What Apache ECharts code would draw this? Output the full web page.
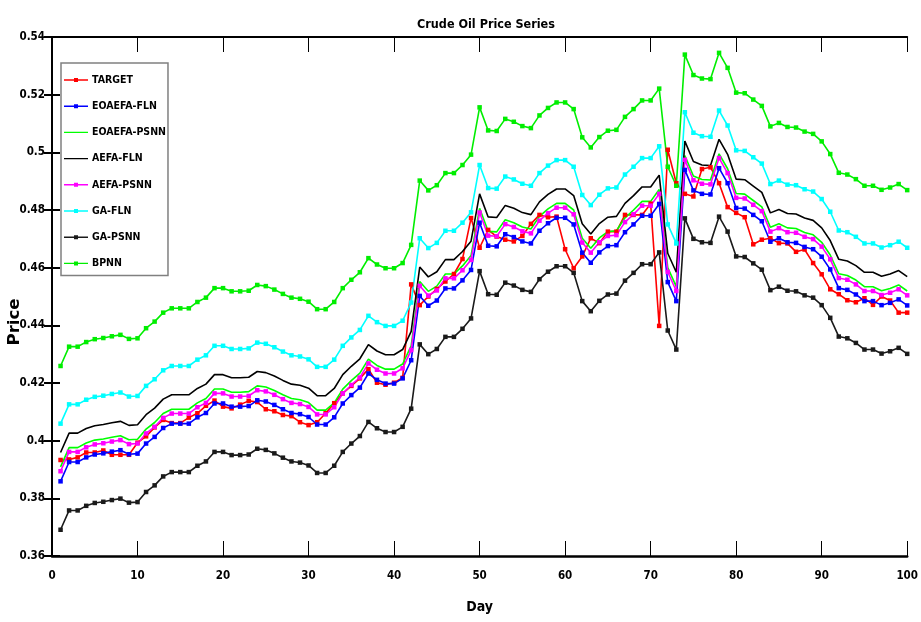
<!DOCTYPE html>
<html>
<head>
<meta charset="utf-8">
<title>Crude Oil Price Series</title>
<script src="https://cdn.jsdelivr.net/npm/echarts@6/dist/echarts.min.js"></script>
<style>
  html, body { margin: 0; padding: 0; background: #fff; }
  #chart { width: 921px; height: 622px; }
</style>
</head>
<body>
<div id="chart"></div>
<script>
// Day index (x axis)
const days = [1,2,3,4,5,6,7,8,9,10,11,12,13,14,15,16,17,18,19,20,21,22,23,24,25,26,27,28,29,30,31,32,33,34,35,36,37,38,39,40,41,42,43,44,45,46,47,48,49,50,51,52,53,54,55,56,57,58,59,60,61,62,63,64,65,66,67,68,69,70,71,72,73,74,75,76,77,78,79,80,81,82,83,84,85,86,87,88,89,90,91,92,93,94,95,96,97,98,99,100];

// Tick labels
const xTicks = [0,10,20,30,40,50,60,70,80,90,100];
const yTicks = [0.36,0.38,0.4,0.42,0.44,0.46,0.48,0.5,0.52,0.54];

// Observed crude oil price
const target = [0.3933,0.3935,0.3942,0.3959,0.3959,0.3966,0.3951,0.3951,0.3951,0.3993,0.4015,0.4046,0.4072,0.4061,0.4061,0.4080,0.4095,0.4121,0.4139,0.4118,0.4112,0.4125,0.4138,0.4134,0.4109,0.4102,0.4089,0.4085,0.4064,0.4054,0.4064,0.4095,0.4130,0.4164,0.4190,0.4216,0.4248,0.4201,0.4194,0.4201,0.4218,0.4542,0.4470,0.4500,0.4526,0.4552,0.4578,0.4630,0.4772,0.4669,0.4731,0.4708,0.4697,0.4691,0.4710,0.4752,0.4783,0.4775,0.4777,0.4664,0.4598,0.4639,0.4702,0.4685,0.4725,0.4725,0.4783,0.4783,0.4783,0.4822,0.4398,0.5009,0.4893,0.4856,0.4847,0.4942,0.4948,0.4893,0.4810,0.4790,0.4775,0.4681,0.4697,0.4702,0.4685,0.4684,0.4655,0.4663,0.4616,0.4577,0.4525,0.4508,0.4487,0.4480,0.4494,0.4471,0.4500,0.4486,0.4444,0.4444];

// Model predictions
const eoaefaFln = [0.3859,0.3926,0.3926,0.3942,0.3952,0.3956,0.3962,0.3967,0.3953,0.3955,0.3990,0.4013,0.4044,0.4059,0.4059,0.4059,0.4081,0.4096,0.4129,0.4129,0.4118,0.4118,0.4120,0.4140,0.4136,0.4124,0.4109,0.4096,0.4092,0.4082,0.4056,0.4056,0.4081,0.4129,0.4158,0.4184,0.4233,0.4211,0.4198,0.4198,0.4216,0.4279,0.4502,0.4468,0.4486,0.4528,0.4528,0.4556,0.4592,0.4756,0.4676,0.4674,0.4716,0.4706,0.4691,0.4684,0.4728,0.4754,0.4773,0.4773,0.4750,0.4652,0.4617,0.4653,0.4675,0.4678,0.4723,0.4750,0.4780,0.4780,0.4821,0.4550,0.4484,0.4939,0.4868,0.4856,0.4854,0.4945,0.4893,0.4807,0.4805,0.4783,0.4761,0.4690,0.4702,0.4688,0.4686,0.4672,0.4664,0.4638,0.4594,0.4529,0.4523,0.4507,0.4484,0.4484,0.4470,0.4478,0.4490,0.4469];

const eoaefaPsnn = [0.3909,0.3976,0.3976,0.3992,0.4002,0.4006,0.4012,0.4017,0.4003,0.4005,0.4040,0.4063,0.4094,0.4109,0.4109,0.4109,0.4131,0.4146,0.4179,0.4179,0.4168,0.4168,0.4170,0.4190,0.4186,0.4174,0.4159,0.4146,0.4142,0.4132,0.4106,0.4106,0.4131,0.4179,0.4208,0.4234,0.4283,0.4261,0.4248,0.4248,0.4266,0.4329,0.4552,0.4518,0.4536,0.4578,0.4578,0.4606,0.4642,0.4806,0.4726,0.4724,0.4766,0.4756,0.4741,0.4734,0.4778,0.4804,0.4823,0.4823,0.4800,0.4702,0.4667,0.4703,0.4725,0.4728,0.4773,0.4800,0.4830,0.4830,0.4871,0.4600,0.4534,0.4989,0.4918,0.4906,0.4904,0.4995,0.4943,0.4857,0.4855,0.4833,0.4811,0.4740,0.4752,0.4738,0.4736,0.4722,0.4714,0.4688,0.4644,0.4579,0.4573,0.4557,0.4534,0.4534,0.4520,0.4528,0.4540,0.4519];

const aefaFln = [0.3959,0.4026,0.4026,0.4042,0.4052,0.4056,0.4062,0.4067,0.4053,0.4055,0.4090,0.4113,0.4144,0.4159,0.4159,0.4159,0.4181,0.4196,0.4229,0.4229,0.4218,0.4218,0.4220,0.4240,0.4236,0.4224,0.4209,0.4196,0.4192,0.4182,0.4156,0.4156,0.4181,0.4229,0.4258,0.4284,0.4333,0.4311,0.4298,0.4298,0.4316,0.4379,0.4602,0.4568,0.4586,0.4628,0.4628,0.4656,0.4692,0.4856,0.4776,0.4774,0.4816,0.4806,0.4791,0.4784,0.4828,0.4854,0.4873,0.4873,0.4850,0.4752,0.4717,0.4753,0.4775,0.4778,0.4823,0.4850,0.4880,0.4880,0.4921,0.4650,0.4584,0.5039,0.4968,0.4956,0.4954,0.5045,0.4993,0.4907,0.4905,0.4883,0.4861,0.4790,0.4802,0.4788,0.4786,0.4772,0.4764,0.4738,0.4694,0.4629,0.4623,0.4607,0.4584,0.4584,0.4570,0.4578,0.4590,0.4569];

const aefaPsnn = [0.3894,0.3961,0.3961,0.3977,0.3987,0.3991,0.3997,0.4002,0.3988,0.3990,0.4025,0.4048,0.4079,0.4094,0.4094,0.4094,0.4116,0.4131,0.4164,0.4164,0.4153,0.4153,0.4155,0.4175,0.4171,0.4159,0.4144,0.4131,0.4127,0.4117,0.4091,0.4091,0.4116,0.4164,0.4193,0.4219,0.4268,0.4246,0.4233,0.4233,0.4251,0.4314,0.4537,0.4503,0.4521,0.4563,0.4563,0.4591,0.4627,0.4791,0.4711,0.4709,0.4751,0.4741,0.4726,0.4719,0.4763,0.4789,0.4808,0.4808,0.4785,0.4687,0.4652,0.4688,0.4710,0.4713,0.4758,0.4785,0.4815,0.4815,0.4856,0.4585,0.4519,0.4974,0.4903,0.4891,0.4889,0.4980,0.4928,0.4842,0.4840,0.4818,0.4796,0.4725,0.4737,0.4723,0.4721,0.4707,0.4699,0.4673,0.4629,0.4564,0.4558,0.4542,0.4519,0.4519,0.4505,0.4513,0.4525,0.4504];

const gaFln = [0.4059,0.4126,0.4126,0.4142,0.4152,0.4156,0.4162,0.4167,0.4153,0.4155,0.4190,0.4213,0.4244,0.4259,0.4259,0.4259,0.4281,0.4296,0.4329,0.4329,0.4318,0.4318,0.4320,0.4340,0.4336,0.4324,0.4309,0.4296,0.4292,0.4282,0.4256,0.4256,0.4281,0.4329,0.4358,0.4384,0.4433,0.4411,0.4398,0.4398,0.4416,0.4479,0.4702,0.4668,0.4686,0.4728,0.4728,0.4756,0.4792,0.4956,0.4876,0.4874,0.4916,0.4906,0.4891,0.4884,0.4928,0.4954,0.4973,0.4973,0.4950,0.4852,0.4817,0.4853,0.4875,0.4878,0.4923,0.4950,0.4980,0.4980,0.5021,0.4750,0.4684,0.5139,0.5068,0.5056,0.5054,0.5145,0.5093,0.5007,0.5005,0.4983,0.4961,0.4890,0.4902,0.4888,0.4886,0.4872,0.4864,0.4838,0.4794,0.4729,0.4723,0.4707,0.4684,0.4684,0.4670,0.4678,0.4690,0.4669];

const gaPsnn = [0.3691,0.3758,0.3758,0.3774,0.3784,0.3788,0.3794,0.3799,0.3785,0.3787,0.3822,0.3845,0.3876,0.3891,0.3891,0.3891,0.3913,0.3928,0.3961,0.3961,0.3950,0.3950,0.3952,0.3972,0.3968,0.3956,0.3941,0.3928,0.3924,0.3914,0.3888,0.3888,0.3913,0.3961,0.3990,0.4016,0.4065,0.4043,0.4030,0.4030,0.4048,0.4111,0.4334,0.4300,0.4318,0.4360,0.4360,0.4388,0.4424,0.4588,0.4508,0.4506,0.4548,0.4538,0.4523,0.4516,0.4560,0.4586,0.4605,0.4605,0.4582,0.4484,0.4449,0.4485,0.4507,0.4510,0.4555,0.4582,0.4612,0.4612,0.4653,0.4382,0.4316,0.4771,0.4700,0.4688,0.4686,0.4777,0.4725,0.4639,0.4637,0.4615,0.4593,0.4522,0.4534,0.4520,0.4518,0.4504,0.4496,0.4470,0.4426,0.4361,0.4355,0.4339,0.4316,0.4316,0.4302,0.4310,0.4322,0.4301];

const bpnn = [0.4259,0.4326,0.4326,0.4342,0.4352,0.4356,0.4362,0.4367,0.4353,0.4355,0.4390,0.4413,0.4444,0.4459,0.4459,0.4459,0.4481,0.4496,0.4529,0.4529,0.4518,0.4518,0.4520,0.4540,0.4536,0.4524,0.4509,0.4496,0.4492,0.4482,0.4456,0.4456,0.4481,0.4529,0.4558,0.4584,0.4633,0.4611,0.4598,0.4598,0.4616,0.4679,0.4902,0.4868,0.4886,0.4928,0.4928,0.4956,0.4992,0.5156,0.5076,0.5074,0.5116,0.5106,0.5091,0.5084,0.5128,0.5154,0.5173,0.5173,0.5150,0.5052,0.5017,0.5053,0.5075,0.5078,0.5123,0.5150,0.5180,0.5180,0.5221,0.4950,0.4884,0.5339,0.5268,0.5256,0.5254,0.5345,0.5293,0.5207,0.5205,0.5183,0.5161,0.5090,0.5102,0.5088,0.5086,0.5072,0.5064,0.5038,0.4994,0.4929,0.4923,0.4907,0.4884,0.4884,0.4870,0.4878,0.4890,0.4869];

const seriesNames = ['TARGET','EOAEFA-FLN','EOAEFA-PSNN','AEFA-FLN','AEFA-PSNN','GA-FLN','GA-PSNN','BPNN'];
const seriesValues = [target, eoaefaFln, eoaefaPsnn, aefaFln, aefaPsnn, gaFln, gaPsnn, bpnn];
const seriesColors = ['#ff0000','#0000ff','#00ff00','#000000','#ff00ff','#00ffff','#1a1a1a','#00ee00'];
const withMarkers = [true, true, false, false, true, true, true, true];

const FONT = '"DejaVu Sans Condensed", "Liberation Sans", sans-serif';

// Legend keys: a short line, with a small square marker where the series has one
const ICON_MARKED = 'path://M0,5.3H24V6.7H0Z M10,4H14V8H10Z';
const ICON_PLAIN = 'path://M0,5.3H24V6.7H0Z M0,4H0.01V8H0Z';

const chart = echarts.init(document.getElementById('chart'), null, { renderer: 'canvas' });

const series = seriesNames.map((name, i) => ({
  name: name,
  type: 'line',
  xAxisIndex: 0,
  yAxisIndex: 0,
  data: days.map((d, k) => [d, seriesValues[i][k]]),
  symbol: withMarkers[i] ? 'rect' : 'none',
  symbolSize: 4.5,
  showSymbol: withMarkers[i],
  showAllSymbol: true,
  lineStyle: { color: seriesColors[i], width: 1.6 },
  itemStyle: { color: seriesColors[i] },
  emphasis: { disabled: true },
  animation: false
}));

const axisLine = { show: true, lineStyle: { color: '#000', width: 2 } };

chart.setOption({
  backgroundColor: '#ffffff',
  animation: false,
  title: {
    text: 'Crude Oil Price Series',
    left: 481,
    textAlign: 'center',
    top: 13,
    textStyle: { fontFamily: FONT, fontWeight: 'bold', fontSize: 12.5, color: '#000' }
  },
  grid: { left: 52, right: 11, top: 37, bottom: 66, containLabel: false },
  legend: {
    orient: 'vertical',
    left: 61,
    top: 63,
    padding: [10, 2, 5, 3],
    itemWidth: 24,
    itemHeight: 14,
    itemGap: 12.2,
    backgroundColor: '#ffffff',
    borderColor: '#808080',
    borderWidth: 1.5,
    textStyle: { fontFamily: FONT, fontWeight: 'bold', fontSize: 10.5, lineHeight: 14, color: '#000', padding: [0, 0, 0, -1] },
    data: seriesNames.map((n, i) => ({ name: n, icon: withMarkers[i] ? ICON_MARKED : ICON_PLAIN }))
  },
  xAxis: [
    {
      type: 'value', min: 0, max: 100, interval: 10, position: 'bottom',
      name: 'Day', nameLocation: 'middle', nameGap: 44,
      nameTextStyle: { fontFamily: FONT, fontWeight: 'bold', fontSize: 14, color: '#000' },
      axisLine: { show: true, lineStyle: { color: '#000', width: 2.5 } },
      axisTick: { show: true, inside: true, length: 15, lineStyle: { color: '#000', width: 1 } },
      axisLabel: { fontFamily: FONT, fontWeight: 'bold', fontSize: 11.5, color: '#000', margin: 14,
                   formatter: v => xTicks.includes(v) ? String(v) : '' },
      splitLine: { show: false }
    },
    {
      type: 'value', min: 0, max: 100, interval: 10, position: 'top',
      axisLine: axisLine,
      axisTick: { show: true, inside: true, length: 15, lineStyle: { color: '#000', width: 1 } },
      axisLabel: { show: false },
      splitLine: { show: false }
    }
  ],
  yAxis: [
    {
      type: 'value', min: 0.36, max: 0.54, interval: 0.02, position: 'left',
      axisLine: axisLine,
      axisTick: { show: true, inside: true, length: 8, lineStyle: { color: '#000', width: 2 } },
      axisLabel: { fontFamily: FONT, fontWeight: 'bold', fontSize: 11.5, color: '#000', margin: 7,
                   formatter: v => {
                     const t = yTicks.find(y => Math.abs(y - v) < 1e-9);
                     return t === undefined ? '' : String(t);
                   } },
      splitLine: { show: false }
    },
    {
      type: 'value', min: 0.36, max: 0.54, interval: 0.02, position: 'right',
      axisLine: axisLine,
      axisTick: { show: true, inside: true, length: 8, lineStyle: { color: '#000', width: 2 } },
      axisLabel: { show: false },
      splitLine: { show: false }
    }
  ],
  graphic: [
    {
      type: 'text',
      x: 15, y: 322,
      rotation: Math.PI / 2,
      scaleX: 1.15,
      style: {
        text: 'Price',
        fontFamily: FONT, fontWeight: 'bold', fontSize: 16, fill: '#000',
        textAlign: 'center', textVerticalAlign: 'middle'
      }
    }
  ],
  series: series
});
</script>
</body>
</html>
